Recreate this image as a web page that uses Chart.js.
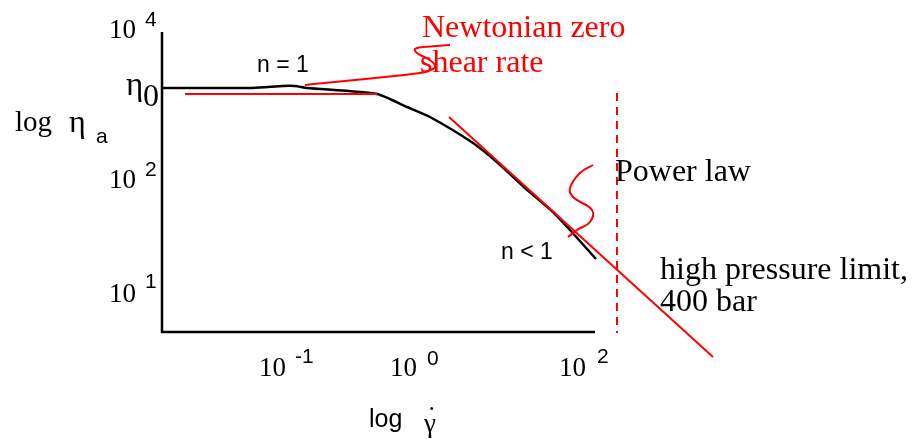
<!DOCTYPE html>
<html>
<head>
<meta charset="utf-8">
<script src="https://cdn.jsdelivr.net/npm/chart.js@4"></script>
<style>
  html, body { margin: 0; padding: 0; background: #fff; }
  #wrap { width: 913px; height: 439px; }
</style>
</head>
<body>
<div id="wrap"><canvas id="c" width="913" height="439"></canvas></div>
<script>
// ---- data (sketch units; y grows downward) ----
const axisX = [162, 162, 595];
const axisY = [32, 332, 332];

const flowCurveX = [162, 253, 283, 295, 307, 377, 407, 430, 473, 498, 525, 553, 570, 596];
const flowCurveY = [88, 88, 86, 86, 88, 94, 107, 117, 143, 163, 188, 212, 230, 259];

const newtonianX = [185, 377];
const newtonianY = [94, 94];

const powerLawX = [449, 713];
const powerLawY = [117, 357];

const limitX = [617, 617];
const limitY = [93, 333];

const newtonPointerX = [305, 420, 433, 435, 428, 417, 415, 423, 450];
const newtonPointerY = [85, 73, 69, 65, 59, 53, 49, 47, 45];

const powerPointerX = [593, 580, 570, 573, 592, 590, 577, 568];
const powerPointerY = [165, 173, 188, 197, 210, 222, 230, 237];

const yTickBases = ['10', '10', '10'];
const yTickExps = ['4', '2', '1'];
const xTickBases = ['10', '10', '10'];
const xTickExps = ['-1', '0', '2'];
const noteTexts = ['Newtonian zero', 'shear rate', 'Power law', 'high pressure limit,', '400 bar', 'n = 1', 'n < 1'];

// ---- layout / style ----
const SERIF = '"Liberation Serif", "Times New Roman", serif';
const SANS = '"Liberation Sans", Arial, sans-serif';

function pts(xs, ys) { return xs.map((x, i) => ({ x: x, y: ys[i] })); }

const yTickPos = [
  { bx: 109, by: 38, ex: 145, ey: 26 },
  { bx: 109, by: 188, ex: 145, ey: 176 },
  { bx: 109, by: 302, ex: 145, ey: 288 }
];
const xTickPos = [
  { bx: 259, by: 376, ex: 295, ey: 363 },
  { bx: 390, by: 376, ex: 427, ey: 365 },
  { bx: 559, by: 376, ex: 597, ey: 363 }
];
const notePos = [
  { x: 422, y: 37, font: '32px ' + SERIF, color: '#ff0000' },
  { x: 420, y: 72, font: '32px ' + SERIF, color: '#ff0000' },
  { x: 615, y: 181, font: '32px ' + SERIF, color: '#000' },
  { x: 660, y: 279, font: '32px ' + SERIF, color: '#000' },
  { x: 660, y: 311, font: '32px ' + SERIF, color: '#000' },
  { x: 257, y: 72, font: '23px ' + SANS, color: '#000' },
  { x: 501, y: 259, font: '23px ' + SANS, color: '#000' }
];
const axisTitles = [
  { t: 'η', x: 126, y: 95, font: '33px ' + SERIF },
  { t: '0', x: 143, y: 106, font: '32px ' + SERIF },
  { t: 'log', x: 15, y: 131, font: '29px ' + SERIF },
  { t: 'η', x: 69, y: 132, font: '32px ' + SERIF },
  { t: 'a', x: 96, y: 143, font: '21px ' + SANS },
  { t: 'log', x: 369, y: 427, font: '25px ' + SANS },
  { t: 'γ', x: 424, y: 432, font: '27px ' + SERIF },
  { t: '˙', x: 427, y: 425, font: '28px ' + SERIF }
];

const textPlugin = {
  id: 'sketchText',
  afterDatasetsDraw(chart) {
    const ctx = chart.ctx;
    const xs = chart.scales.x, ys = chart.scales.y;
    const put = (t, x, y, font, color) => {
      ctx.font = font;
      ctx.fillStyle = color || '#000';
      ctx.fillText(t, xs.getPixelForValue(x), ys.getPixelForValue(y));
    };
    ctx.save();
    ctx.textAlign = 'left';
    ctx.textBaseline = 'alphabetic';
    yTickBases.forEach((b, i) => {
      const p = yTickPos[i];
      put(b, p.bx, p.by, '27px ' + SERIF);
      put(yTickExps[i], p.ex, p.ey, '21px ' + SANS);
    });
    xTickBases.forEach((b, i) => {
      const p = xTickPos[i];
      put(b, p.bx, p.by, '27px ' + SERIF);
      put(xTickExps[i], p.ex, p.ey, '21px ' + SANS);
    });
    noteTexts.forEach((t, i) => {
      const p = notePos[i];
      put(t, p.x, p.y, p.font, p.color);
    });
    axisTitles.forEach(a => put(a.t, a.x, a.y, a.font, '#000'));
    ctx.restore();
  }
};

const line = (xs, ys, color, width, extra) => Object.assign({
  data: pts(xs, ys),
  showLine: true,
  borderColor: color,
  backgroundColor: color,
  borderWidth: width,
  pointRadius: 0,
  fill: false,
  tension: 0,
  clip: false
}, extra || {});

new Chart(document.getElementById('c'), {
  type: 'scatter',
  data: {
    datasets: [
      line(newtonianX, newtonianY, '#ff0000', 2),
      line(powerLawX, powerLawY, '#ff0000', 2),
      line(limitX, limitY, '#ff0000', 2, { borderDash: [8, 6] }),
      line(newtonPointerX, newtonPointerY, '#ff0000', 2, { tension: 0.4 }),
      line(powerPointerX, powerPointerY, '#ff0000', 2, { tension: 0.4 }),
      line(flowCurveX, flowCurveY, '#000', 2.5, { tension: 0.2 }),
      line(axisX, axisY, '#000', 2.5)
    ]
  },
  options: {
    responsive: false,
    animation: false,
    events: [],
    layout: { padding: 0 },
    plugins: { legend: { display: false }, tooltip: { enabled: false }, title: { display: false } },
    scales: {
      x: { type: 'linear', min: 0, max: 913, display: false },
      y: { type: 'linear', min: 0, max: 439, reverse: true, display: false }
    }
  },
  plugins: [textPlugin]
});
</script>
</body>
</html>
